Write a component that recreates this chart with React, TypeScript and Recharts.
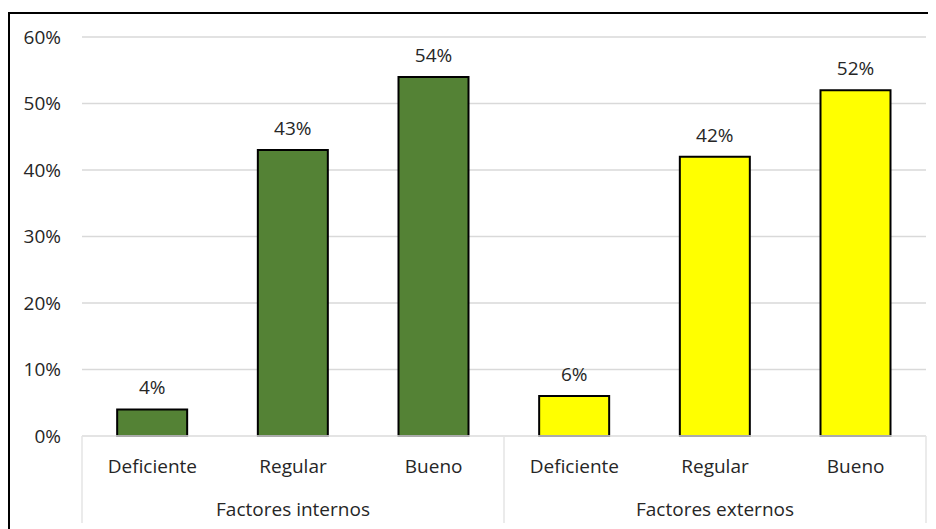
import { Bar, BarChart, CartesianGrid, Cell, LabelList, XAxis, YAxis } from "recharts";

const categories = ["Deficiente", "Regular", "Bueno", "Deficiente", "Regular", "Bueno"];
const groups = ["Factores internos", "Factores internos", "Factores internos", "Factores externos", "Factores externos", "Factores externos"];
const values = [4, 43, 54, 6, 42, 52];
const yTicks = [0, 10, 20, 30, 40, 50, 60];

const groupColors: Record<string, string> = {
  "Factores internos": "#548235",
  "Factores externos": "#FFFF00",
};

const data = categories.map((cat, i) => ({ cat, group: groups[i], value: values[i] }));

const PLOT_W = 844;
const BAND = PLOT_W / categories.length;
const FONT = "'Open Sans', sans-serif";
const TEXT = "#262626";
const SEP = "#e4e4e4";

const CategoryTick = (props: any) => {
  const { x, y, index, payload } = props;
  const i = index ?? payload.index;
  const row = data[i];
  const firstInGroup = i === 0 || data[i - 1].group !== row.group;
  const last = i === data.length - 1;
  const middle = i % 3 === 1;
  return (
    <g>
      <text x={x} y={y + 37} textAnchor="middle" fontSize={19} fill={TEXT} fontFamily={FONT}>
        {payload.value}
      </text>
      {middle && (
        <text x={x} y={y + 80} textAnchor="middle" fontSize={19} fill={TEXT} fontFamily={FONT}>
          {row.group}
        </text>
      )}
      {firstInGroup && <line x1={x - BAND / 2} x2={x - BAND / 2} y1={y} y2={y + 87} stroke={SEP} strokeWidth={1.5} />}
      {last && <line x1={x + BAND / 2} x2={x + BAND / 2} y1={y} y2={y + 87} stroke={SEP} strokeWidth={1.5} />}
    </g>
  );
};

const App = () => {
  return (
    <div
      style={{
        marginTop: 4,
        width: 960,
        height: 540,
        borderTop: "2px solid #000",
        borderLeft: "2px solid #000",
        fontFamily: FONT,
      }}
    >
      <BarChart
        width={920}
        height={515}
        data={data}
        margin={{ top: 23, right: 4, bottom: 0, left: 0 }}
        barCategoryGap="25%"
      >
        <CartesianGrid vertical={false} stroke="#d9d9d9" strokeWidth={1.5} />
        <XAxis
          dataKey="cat"
          height={93}
          interval={0}
          tickLine={false}
          tickSize={0}
          tickMargin={0}
          axisLine={{ stroke: SEP, strokeWidth: 1.5 }}
          tick={<CategoryTick />}
        />
        <YAxis
          width={72}
          domain={[0, 60]}
          ticks={yTicks}
          axisLine={false}
          tickLine={false}
          tickSize={0}
          tickMargin={21}
          tickFormatter={(v) => `${v}%`}
          tick={{ fontSize: 19, fill: TEXT, fontFamily: FONT }}
        />
        <Bar dataKey="value" stroke="#000" strokeWidth={2} isAnimationActive={false}>
          {data.map((d, i) => (
            <Cell key={i} fill={groupColors[d.group]} />
          ))}
          <LabelList
            dataKey="value"
            position="top"
            offset={15}
            formatter={(v: any) => `${v}%`}
            style={{ fontSize: 19, fill: TEXT, fontFamily: FONT }}
          />
        </Bar>
      </BarChart>
    </div>
  );
};

export default App;
